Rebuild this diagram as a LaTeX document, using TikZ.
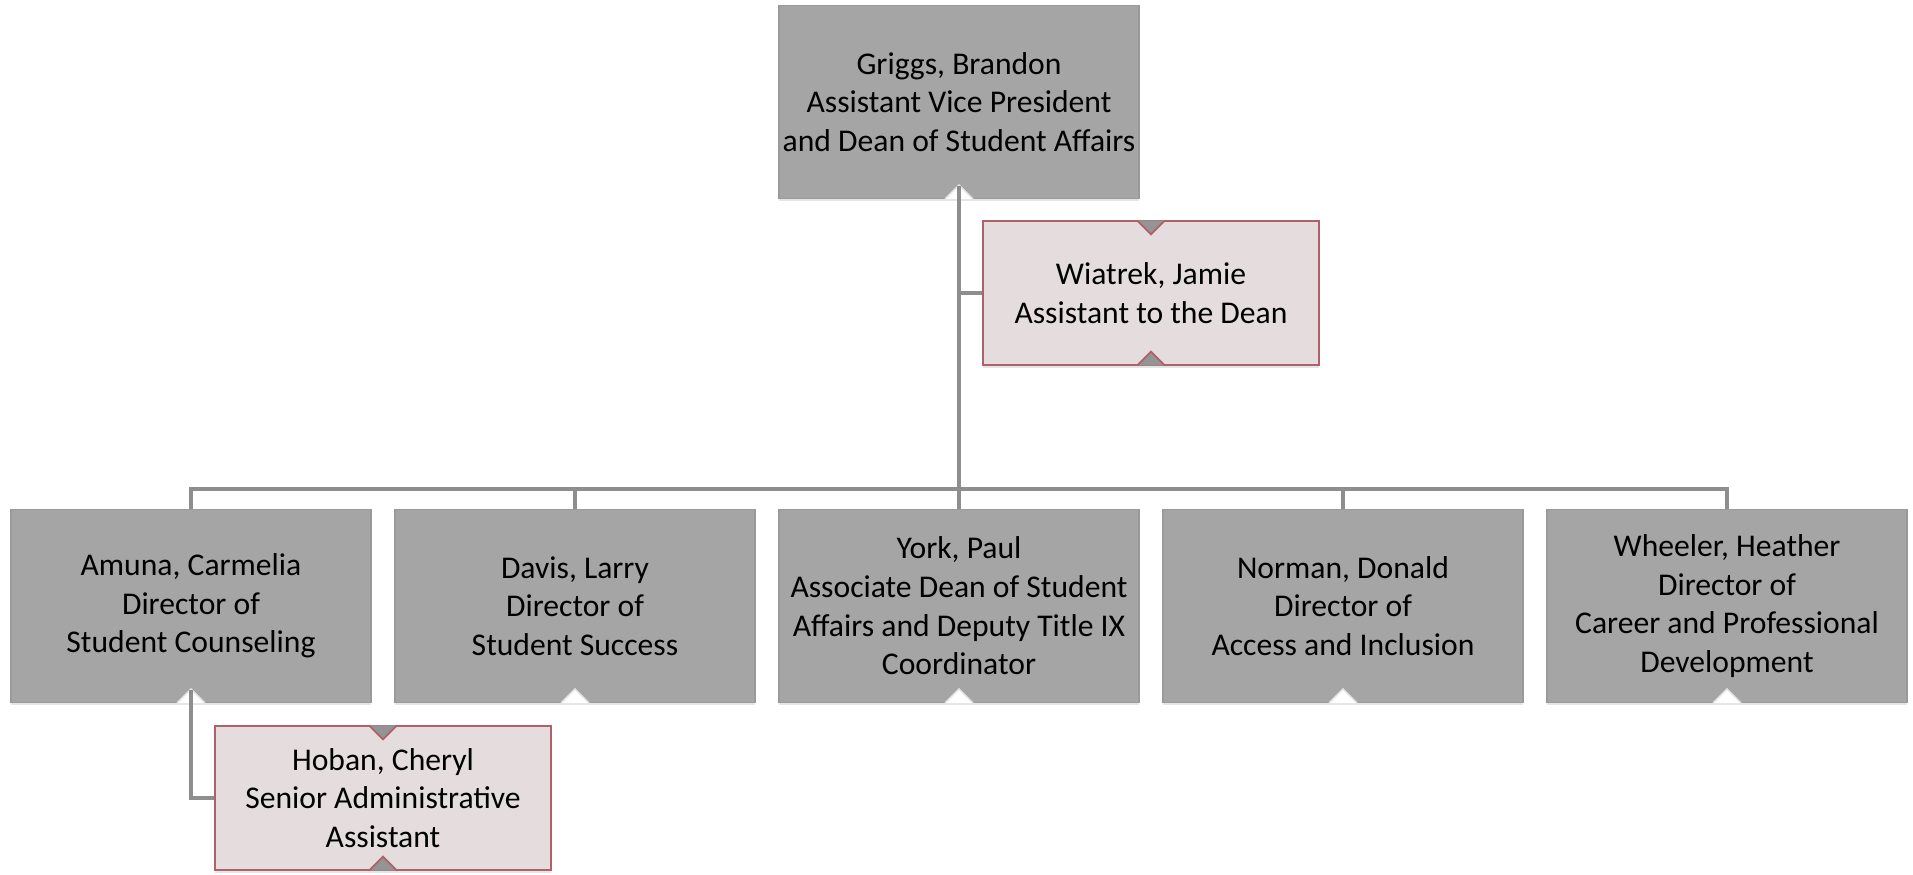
\documentclass[tikz,border=0pt]{standalone}
\usepackage{fontspec}
\setmainfont{Carlito}
\usetikzlibrary{shadows}
\definecolor{boxgray}{HTML}{A5A5A5}
\definecolor{boxline}{HTML}{9A9A9A}
\definecolor{asstfill}{HTML}{E5DDDD}
\definecolor{asstline}{HTML}{B0606B}
\definecolor{linkgray}{HTML}{8E8E8E}
\begin{document}
\begin{tikzpicture}[x=0.02cm, y=-0.02cm]
    \tikzstyle{person}=[rectangle, draw=boxline, fill=boxgray, line width=0.8pt, align=center,
      minimum width=7.2cm, minimum height=3.85cm, inner sep=0pt,
      font=\fontsize{18}{22}\selectfont,
      drop shadow={opacity=0.2, shadow xshift=0pt, shadow yshift=-0.06cm}]
    \tikzstyle{helper}=[person, draw=asstline, fill=asstfill, line width=1pt, minimum width=6.72cm, minimum height=2.87cm]
    \tikzstyle{link}=[draw=linkgray, line width=2.3pt]
    \tikzstyle{notch}=[fill=white, draw=black!12, line width=0.8pt]
    \tikzstyle{tab}=[fill=boxgray!90!black, draw=asstline, line width=1pt]

    \useasboundingbox (0,0) rectangle (1913,875);

    % top
    \node[person] (griggs) at (959,102) {Griggs, Brandon\\Assistant Vice President\\and Dean of Student Affairs};
    \node[helper] (wiatrek) at (1151,293) {Wiatrek, Jamie\\Assistant to the Dean};

    % second row
    \node[person] (amuna) at (191,606) {Amuna, Carmelia\\Director of\\Student Counseling};
    \node[person] (davis) at (575,606) {Davis, Larry\\Director of\\Student Success};
    \node[person] (york) at (959,606) {York, Paul\\Associate Dean of Student\\Affairs and Deputy Title IX\\Coordinator};
    \node[person] (norman) at (1343,606) {Norman, Donald\\Director of\\Access and Inclusion};
    \node[person] (wheeler) at (1727,606) {Wheeler, Heather\\Director of\\Career and Professional\\Development};

    \node[helper] (hoban) at (383,798) {Hoban, Cheryl\\Senior Administrative\\Assistant};

    % notches
    \foreach \n in {griggs, amuna, davis, york, norman, wheeler}
      \draw[notch] ([xshift=-0.28cm]\n.south) -- ([yshift=0.28cm]\n.south) -- ([xshift=0.28cm]\n.south);
    \foreach \n in {wiatrek, hoban} {
      \fill[white] ([xshift=-0.32cm]\n.north) rectangle ([xshift=0.32cm,yshift=0.05cm]\n.north);
      \draw[tab] ([xshift=-0.28cm]\n.north) -- ([yshift=-0.28cm]\n.north) -- ([xshift=0.28cm]\n.north);
      \draw[tab] ([xshift=-0.28cm]\n.south) -- ([yshift=0.28cm]\n.south) -- ([xshift=0.28cm]\n.south);
    }

    % links
    \coordinate (bus) at (959,489);
    \draw[link] ([yshift=0.26cm]griggs.south) -- (york.north);
    \draw[link] (wiatrek.west) -- (wiatrek.west -| griggs.south);
    \draw[link] (amuna.north) |- (bus) -| (wheeler.north);
    \draw[link] (davis.north) -- (davis.north |- bus);
    \draw[link] (norman.north) -- (norman.north |- bus);
    \draw[link] ([yshift=0.26cm]amuna.south) |- (hoban.west);
\end{tikzpicture}
\end{document}
